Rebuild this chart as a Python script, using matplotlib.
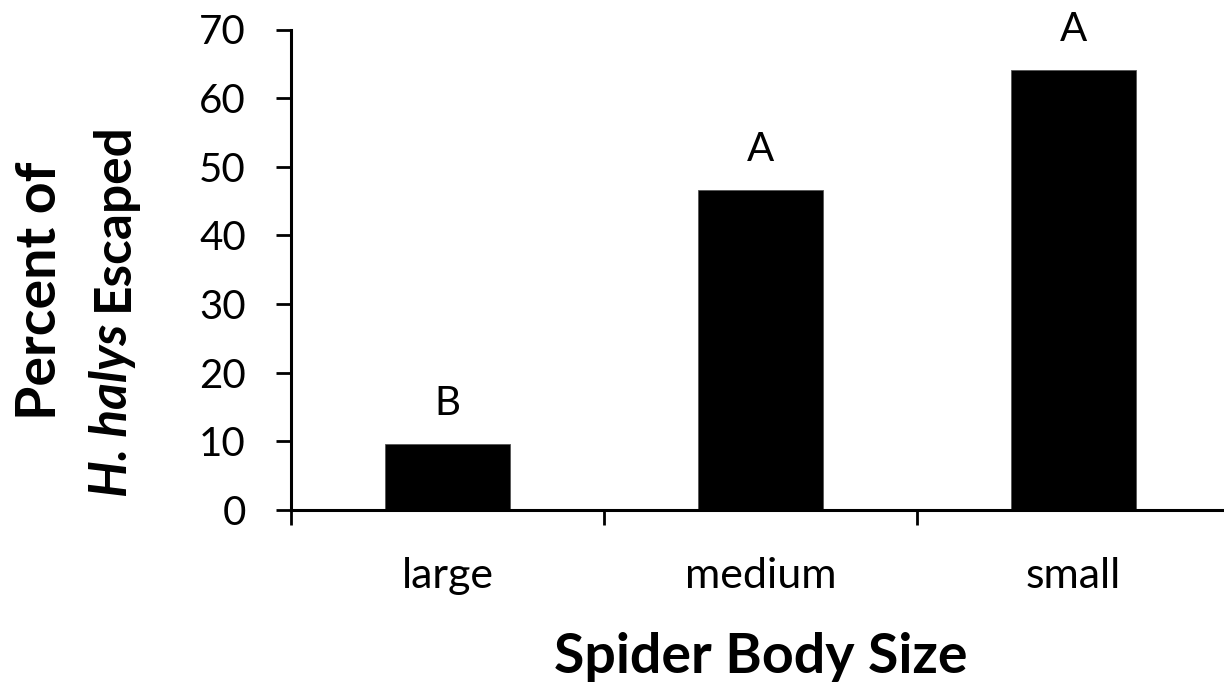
import matplotlib
matplotlib.use('Agg')
import matplotlib.pyplot as plt

plt.rcParams['font.family'] = ['Lato', 'DejaVu Sans']

# data
categories = ['large', 'medium', 'small']
escaped = [9.6, 46.6, 64.1]
letters = ['B', 'A', 'A']

W, H = 1224, 689
fig = plt.figure(figsize=(W / 100, H / 100), dpi=100)
ax = fig.add_axes([291 / W, 1 - 510 / H, 939 / W, (510 - 29.5) / H])

x = list(range(len(categories)))
ax.bar(x, escaped, width=0.4, color='black', edgecolor='#555555', linewidth=0.6)

for xi, v, lab in zip(x, escaped, letters):
    ax.annotate(lab, xy=(xi, v), xytext=(0, 21), textcoords='offset points',
                ha='center', va='baseline', fontsize=29)

ax.set_xlim(-0.5, 2.5)
ax.set_ylim(0, 70)
ax.set_yticks(range(0, 71, 10))

# category ticks sit on the boundaries, labels in the middle
ax.set_xticks([-0.5, 0.5, 1.5, 2.5])
ax.set_xticklabels([])
ax.set_xticks(x, minor=True)
ax.set_xticklabels(categories, minor=True)
ax.tick_params(axis='x', which='minor', length=0, pad=34, labelsize=31)
ax.tick_params(axis='x', which='major', direction='out', length=10.5, width=2)
ax.tick_params(axis='y', direction='out', length=10.5, width=2, pad=22, labelsize=29)

for s in ['top', 'right']:
    ax.spines[s].set_visible(False)
for s in ['left', 'bottom']:
    ax.spines[s].set_linewidth(2.2)

fig.text(0.5 * (291 + 1230) / W, 1 - 673 / H, 'Spider Body Size', ha='center',
         va='baseline', fontsize=40, fontweight='bold')

# two-line y label, second line partly italic
fig.text(40 / W, 1 - 291 / H, 'Percent of', rotation=90, ha='center', va='center',
         fontsize=40, fontweight='bold')
t1 = fig.text(113 / W, 1 - 497 / H, 'H. halys', rotation=90, rotation_mode='anchor',
              ha='left', va='center', fontsize=37, fontweight='bold', fontstyle='italic')
ax.annotate('Escaped', xy=(0.5, 1), xycoords=t1, xytext=(0, 9), textcoords='offset points',
            rotation=90, rotation_mode='anchor', ha='left', va='center',
            fontsize=37, fontweight='bold', annotation_clip=False)

fig.savefig('out.png', dpi=100)
